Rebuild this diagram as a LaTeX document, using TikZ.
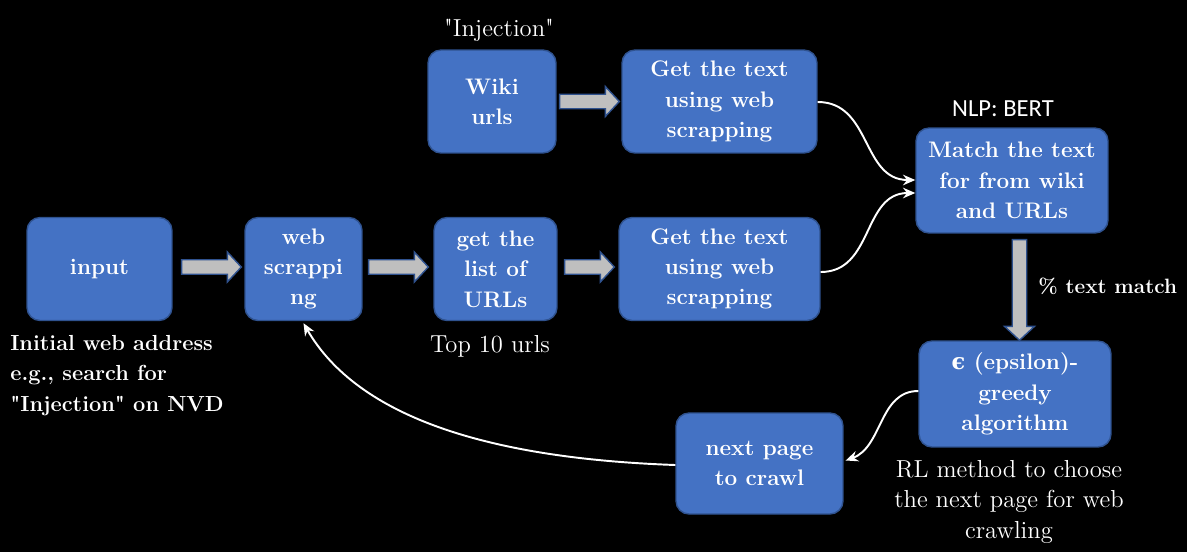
\documentclass[tikz,border=0pt]{standalone}
\usepackage{fontspec}
\newfontfamily\calibrifont{Carlito}
\newfontfamily\greekfont{DejaVu Serif}
\usetikzlibrary{arrows.meta,calc}

\definecolor{boxblue}{HTML}{4472C4}
\definecolor{boxedge}{HTML}{2F528F}
\definecolor{arrgray}{HTML}{BFBFBF}

\begin{document}
\begin{tikzpicture}[
    x=0.02cm, y=-0.02cm,
    stage/.style={
        rectangle,
        rounded corners=0.26cm,
        minimum height=2.06cm,
        draw=boxedge,
        line width=0.8pt,
        fill=boxblue,
        text=white,
        inner sep=2pt,
        font=\bfseries\fontsize{12.8}{17.3}\selectfont,
        align=center
    },
    note/.style={
        text=white,
        inner sep=0pt,
        font=\fontsize{14}{17.3}\selectfont,
        align=center
    },
    boldnote/.style={
        note,
        font=\bfseries\fontsize{12.4}{17.3}\selectfont
    },
    blockarr/.style={
        draw=boxedge,
        line width=0.8pt,
        fill=arrgray,
        to path={
            coordinate (hb) at ($(\tikztotarget)!0.28cm!(\tikztostart)$)
            ($(\tikztostart)!0.145cm!-90:(\tikztotarget)$)
            -- ($(hb)!0.145cm!90:(\tikztostart)$)
            -- ($(hb)!0.3cm!90:(\tikztostart)$)
            -- (\tikztotarget)
            -- ($(hb)!0.3cm!-90:(\tikztostart)$)
            -- ($(hb)!0.145cm!-90:(\tikztostart)$)
            -- ($(\tikztostart)!0.145cm!90:(\tikztotarget)$)
            -- cycle
        }
    },
    link/.style={
        draw=white,
        line width=1.1pt,
        -{Stealth[length=7pt,width=6pt]}
    }
]

% background and frame
\fill[black] (0,0) rectangle (1187,552);

% Main row
\node[stage, minimum width=2.9cm] (input) at (99.5,269) {input};
\node[stage, minimum width=2.34cm] (web) at (303.5,269) {web\\scrappi\\ng};
\node[stage, minimum width=2.46cm] (list) at (495.5,269) {get the\\list of\\URLs};
\node[stage, minimum width=4.02cm] (getbot) at (719.5,269) {Get the text\\using web\\scrapping};

% Wiki row
\node[stage, minimum width=2.56cm] (wiki) at (492,101.5) {Wiki\\urls};
\node[stage, minimum width=3.9cm] (gettop) at (719.5,101.5) {Get the text\\using web\\scrapping};

% Right column
\node[stage, minimum width=3.84cm, minimum height=2.1cm] (match) at (1012,180.5) {Match the text\\for from wiki\\and URLs};
\node[stage, minimum width=3.84cm, minimum height=2.12cm] (greedy) at (1015,394) {{\greekfont ϵ} (epsilon)-\\greedy\\algorithm};
\node[stage, minimum width=3.34cm, minimum height=2.02cm] (nxt) at (759.5,463.5) {next page\\to crawl};

% Labels
\node[boldnote, align=left, anchor=north west] (initial) at (10,335) {Initial web address\\e.g., search for\\\textquotedbl Injection\textquotedbl{} on NVD};
\node[note, anchor=base] (top10) at (490,352) {Top 10 urls};
\node[note, anchor=base] (inj) at (499,36) {\textquotedbl Injection\textquotedbl};
\node[text=white, inner sep=0pt, anchor=base, font=\calibrifont\fontsize{14}{17}\selectfont] (bert) at (1003,116) {NLP: BERT};
\node[boldnote, anchor=base west, font=\bfseries\fontsize{11.8}{17.3}\selectfont] (pct) at (1038,293) {\% text match};
\node[note, anchor=north] (rl) at (1009,460) {RL method to choose\\the next page for web\\crawling};

% Block arrows
\draw[blockarr] ($(input.east)+(9,-2)$) to ($(web.west)+(-3,-2)$);
\draw[blockarr] ($(web.east)+(6,-2)$) to ($(list.west)+(-5,-2)$);
\draw[blockarr] ($(list.east)+(7,-2)$) to ($(getbot.west)+(-4,-2)$);
\draw[blockarr] ($(wiki.east)+(3,0)$) to ($(gettop.west)+(-2,0)$);
\draw[blockarr] ($(match.south)+(7.5,6)$) to ($(greedy.north)+(4.5,0)$);

% Curved connectors
\draw[link] ($(gettop.east)+(0,0.5)$) to[out=0, in=180, looseness=1.1] ($(match.west)+(0,-0.5)$);
\draw[link] ($(getbot.east)+(0,3)$) to[out=0, in=180, looseness=1.1] ($(match.west)+(0,12.5)$);
\draw[link] ($(greedy.west)+(0,-3)$) to[out=180, in=20] ($(nxt.east)+(2,-3)$);
\draw[link] ($(nxt.west)+(0,1.5)$) to[out=178, in=-60, out looseness=1.2, in looseness=0.7] ($(web.south)+(0,2)$);

\end{tikzpicture}
\end{document}
